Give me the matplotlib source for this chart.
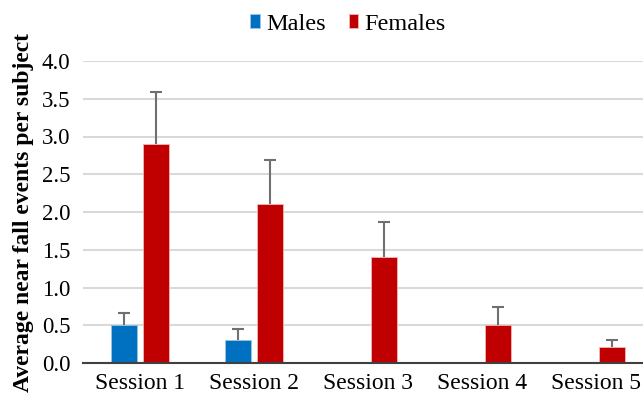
import matplotlib.pyplot as plt
import numpy as np

sessions = ["Session 1", "Session 2", "Session 3", "Session 4", "Session 5"]
males = [0.5, 0.3, 0.0, 0.0, 0.0]
males_err = [0.16, 0.15, 0.0, 0.0, 0.0]
females = [2.9, 2.1, 1.4, 0.5, 0.21]
females_err = [0.69, 0.59, 0.47, 0.24, 0.1]
yticks = [0.0, 0.5, 1.0, 1.5, 2.0, 2.5, 3.0, 3.5, 4.0]

plt.rcParams['font.family'] = ['Liberation Serif', 'DejaVu Serif']

fig = plt.figure(figsize=(6.43, 4.0), dpi=100)
ax = fig.add_axes([83 / 643, 37 / 400, 570 / 643, 302 / 400])

x = np.arange(len(sessions))
w = 0.228
off = 0.14
ecol = '#707070'


def draw_group(pos, vals, errs, color, edge, label):
    ax.bar(pos, vals, w, color=color, edgecolor=edge, linewidth=0.6,
           label=label, zorder=3)
    tops = np.array(vals) + np.array(errs)
    # upper error only: stem + cap
    ax.vlines(pos, vals, tops, color=ecol, linewidth=1.5, zorder=4)
    ax.plot(pos, tops, linestyle='none', marker='_', markersize=9,
            markeredgewidth=1.5, color=ecol, zorder=4)


# only male bars where there is data
mi = [i for i in x if males[i] > 0]
draw_group(np.array(mi) - off, [males[i] for i in mi], [males_err[i] for i in mi],
           '#0070C0', '#9dc3e6', 'Males')
draw_group(x + off, females, females_err, '#C00000', '#f4b6b6', 'Females')

ax.set_xlim(-0.5, len(sessions) - 0.5)
ax.set_ylim(0, 4.0)
ax.set_yticks(yticks)
ax.set_yticklabels([f"{v:.1f}" for v in yticks], fontsize=16.5)
ax.set_xticks(x)
ax.set_xticklabels(sessions, fontsize=17)
ax.tick_params(length=0)
ax.tick_params(axis='y', pad=9)
ax.tick_params(axis='x', pad=7)
ax.yaxis.grid(True, color='#d9d9d9', linewidth=1.5, zorder=0)
ax.set_axisbelow(True)
for s in ['top', 'right', 'left']:
    ax.spines[s].set_visible(False)
ax.spines['bottom'].set_color('#404040')
ax.spines['bottom'].set_linewidth(1.5)
ax.spines['bottom'].set_zorder(5)

ax.set_ylabel('Average near fall events per subject', fontsize=17,
              fontweight='bold', labelpad=6)

fig.legend(loc='center', bbox_to_anchor=(348 / 643, 376 / 400), ncol=2, frameon=False,
           fontsize=17.5, handlelength=0.4, handleheight=0.55, handletextpad=0.25,
           columnspacing=0.95)

fig.savefig('out.png', dpi=100)
